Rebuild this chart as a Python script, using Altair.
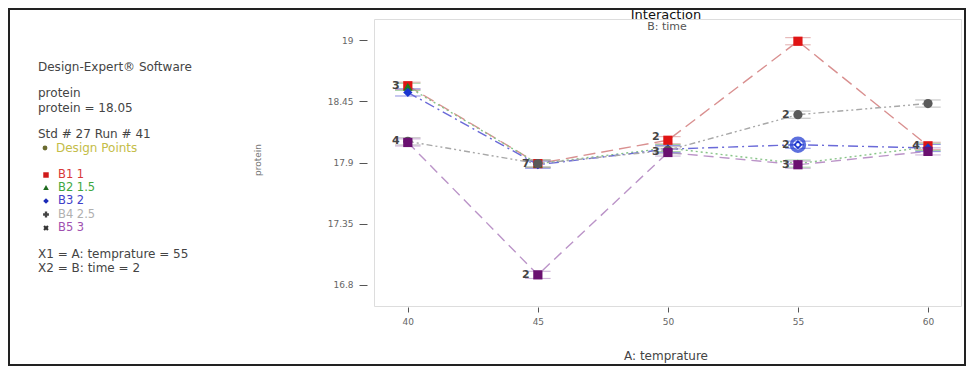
import altair as alt
import pandas as pd

# ---------------- data ----------------
temps = [40, 45, 50, 55, 60]
series_names = ["B1 1", "B2 1.5", "B3 2", "B4 2.5", "B5 3"]
b1 = [18.59, 17.89, 18.10, 18.99, 18.05]
b2 = [18.58, 17.89, 18.03, 17.89, 18.04]
b3 = [18.53, 17.88, 18.02, 18.06, 18.03]
b4 = [18.09, 17.89, 18.01, 18.33, 18.43]
b5 = [18.08, 16.89, 17.99, 17.88, 18.00]

# design-point count labels
lab_x = [40, 40, 45, 45, 50, 50, 55, 55, 55, 60]
lab_y = [18.59, 18.09, 17.89, 16.89, 18.13, 17.99, 18.33, 18.06, 17.88, 18.05]
lab_t = ["3", "4", "7", "2", "2", "3", "2", "2", "3", "4"]

# current design point
cur_x = [55]
cur_y = [18.06]

y_ticks = [16.8, 17.35, 17.9, 18.45, 19]
x_ticks = [40, 45, 50, 55, 60]

point_colors = ["#e01414", "#1f7a1f", "#1a35d0", "#5a5a5a", "#6a1070"]
line_colors = ["#d99090", "#88c488", "#6a6ad8", "#a8a8a8", "#bb94c8"]
dashes = [[12, 6], [2, 3], [10, 4, 2, 4], [6, 3, 2, 3, 2, 3], [10, 6]]
shapes = ["square", "triangle-up", "diamond", "circle", "square"]

rows = []
for name, vals in zip(series_names, [b1, b2, b3, b4, b5]):
    for t, v in zip(temps, vals):
        rows.append({"series": name, "temp": t, "protein": v})
df = pd.DataFrame(rows)
labels_df = pd.DataFrame({"temp": lab_x, "protein": lab_y, "txt": lab_t})
cur_df = pd.DataFrame({"temp": cur_x, "protein": cur_y})

FONT = "DejaVu Sans"
W, H = 587, 287

xs = alt.Scale(domain=[38.7, 61.27], nice=False, zero=False)
ys = alt.Scale(domain=[16.61, 19.19], nice=False, zero=False)

x_enc = alt.X("temp:Q", scale=xs,
              axis=alt.Axis(values=x_ticks, title=None, grid=False, domain=False,
                            tickSize=5, offset=1, labelPadding=5, labelFontSize=9,
                            labelColor="#666", tickColor="#555", labelFont=FONT))
y_enc = alt.Y("protein:Q", scale=ys,
              axis=alt.Axis(values=y_ticks, labelExpr="datum.value + ''", title=None,
                            grid=False, domain=False, tickSize=8, offset=7,
                            labelPadding=6, labelFontSize=9, labelColor="#666",
                            tickColor="#555", labelFont=FONT))

line_layers = []
lsd_layers = []
for name, col, d in zip(series_names, line_colors, dashes):
    sub = df[df.series == name]
    line_layers.append(
        alt.Chart(sub).mark_line(color=col, strokeDash=d, strokeWidth=1.4)
        .encode(x=x_enc, y=y_enc, order="temp:Q")
    )
    lsd_layers.append(
        alt.Chart(sub).mark_point(shape="M-1,-0.28H1M-1,0.28H1", size=650, filled=False,
                                  strokeWidth=1, opacity=0.75, color=col)
        .encode(x=x_enc, y=y_enc)
    )

pts = alt.Chart(df).mark_point(filled=True, size=85, opacity=1).encode(
    x=x_enc, y=y_enc,
    color=alt.Color("series:N", scale=alt.Scale(domain=series_names, range=point_colors), legend=None),
    shape=alt.Shape("series:N", scale=alt.Scale(domain=series_names, range=shapes), legend=None))

cur_ring = alt.Chart(cur_df).mark_point(shape="circle", filled=False, size=170,
                                          strokeWidth=3.5, color="#1a35d0").encode(x=x_enc, y=y_enc)
cur_dot = alt.Chart(cur_df).mark_point(shape="circle", filled=True, size=12,
                                         color="#ffffff", opacity=1).encode(x=x_enc, y=y_enc)

lab = alt.Chart(labels_df).mark_text(dx=-12, fontSize=11, fontWeight="bold", color="#444",
                                     font=FONT).encode(x=x_enc, y=y_enc, text="txt:N")

one = alt.Data(values=[{"a": 1}])


def txt(s, x, y, size=11.5, color="#444", align="left", angle=0, baseline="middle"):
    return alt.Chart(one).mark_text(text=s, fontSize=size, color=color, align=align,
                                    baseline=baseline, font=FONT, angle=angle).encode(
        x=alt.value(x), y=alt.value(y))


def mk(shape, color, x, y, size=30, angle=0):
    return alt.Chart(one).mark_point(shape=shape, filled=True, color=color, size=size,
                                     opacity=1, angle=angle).encode(x=alt.value(x), y=alt.value(y))


LX = -336
annots = [
    txt("Design-Expert® Software", LX, 48, size=12),
    txt("protein", LX, 74, size=12),
    txt("protein = 18.05", LX, 89, size=12),
    txt("Std # 27 Run # 41", LX, 115, size=12),
    mk("circle", "#6b6b30", LX + 7, 129, 24),
    txt("Design Points", LX + 18, 129, color="#c4bd48", size=12),
    mk("square", "#d01a1a", LX + 8, 156, 30),
    txt("B1 1", LX + 20, 156, color="#d83838"),
    mk("triangle-up", "#1f6b1f", LX + 8, 168.5, 32),
    txt("B2 1.5", LX + 20, 168.5, color="#40a840"),
    mk("diamond", "#1a2ab8", LX + 8, 182, 32),
    txt("B3 2", LX + 20, 182, color="#4040c8"),
    mk("cross", "#444444", LX + 8, 195.5, 34),
    txt("B4 2.5", LX + 20, 195.5, color="#b0b0b0"),
    mk("cross", "#333333", LX + 8, 209, 30, 45),
    txt("B5 3", LX + 20, 209, color="#a050b0"),
    txt("X1 = A: temprature = 55", LX, 235, size=12),
    txt("X2 = B: time = 2", LX, 249, size=12),
    txt("Interaction", 292, -0.5, size=13, color="#111", align="center", baseline="alphabetic"),
    txt("B: time", 293, 8, size=11, color="#555", align="center"),
    txt("protein", -116, 141, size=9, color="#777", align="center", angle=270),
    txt("A: temprature", 292, 337, size=12, color="#444", align="center"),
]

border = alt.Chart(one).mark_rect(fill=None, stroke="#222", strokeWidth=2).encode(
    x=alt.value(-365), x2=alt.value(591), y=alt.value(-10), y2=alt.value(346))

chart = alt.layer(
    *line_layers, *lsd_layers, pts, cur_ring, cur_dot, lab, *annots, border
).properties(
    width=W, height=H,
    autosize=alt.AutoSizeParams(type="none"),
    padding={"left": 366, "top": 11, "right": 5, "bottom": 60},
).configure_view(
    stroke="#8a8a8a", strokeWidth=1.5
).configure(background="white")

chart.save("out.html", embed_options={"renderer": "svg", "actions": False})
